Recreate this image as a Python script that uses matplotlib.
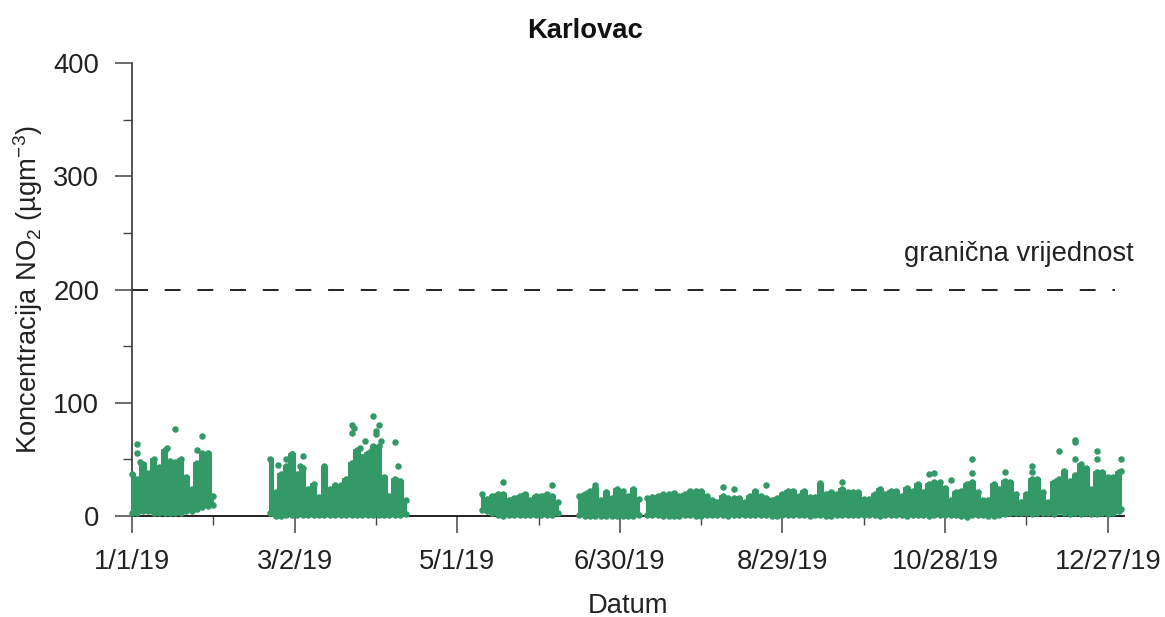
import matplotlib
matplotlib.use("Agg")
import matplotlib.pyplot as plt
from matplotlib.ticker import FixedLocator, FixedFormatter

plt.rcParams['font.family'] = ['Liberation Sans', 'DejaVu Sans']
plt.rcParams['mathtext.fontset'] = 'custom'
plt.rcParams['mathtext.rm'] = 'Liberation Sans'
plt.rcParams['mathtext.default'] = 'regular'

TITLE = "Karlovac"
X_LABEL = "Datum"
Y_LABEL = "Koncentracija NO$_2$ (µgm$^{-3}$)"
LIMIT_LABEL = "granična vrijednost"
LIMIT_VALUE = 200

x_major = [0, 60, 120, 180, 240, 300, 360]
x_minor = [30, 90, 150, 210, 270, 330]
x_labels = ["1/1/19", "3/2/19", "5/1/19", "6/30/19", "8/29/19", "10/28/19", "12/27/19"]
y_major = [0, 100, 200, 300, 400]
y_minor = [50, 150, 250, 350]

# day of year, and the highest / lowest reading around that day
day_jan = [0, 2, 4, 6, 8, 10, 12, 14, 16, 18, 20, 22, 24, 26, 28, 30]
top_jan = [37, 33, 46, 38, 50, 43, 58, 49, 48, 50, 34, 24, 47, 56, 56, 18]
low_jan = [3, 3, 4, 4, 3, 3, 3, 3, 3, 3, 4, 4, 6, 8, 9, 10]

day_mar = [51, 53, 55, 57, 59, 61, 63, 65, 67, 69, 71, 73, 75, 77, 79, 81, 83, 85, 87, 89, 91, 93, 95, 97, 99, 101]
top_mar = [50, 21, 37, 44, 55, 37, 42, 24, 28, 17, 43, 24, 27, 27, 33, 47, 58, 52, 56, 62, 62, 34, 18, 33, 31, 14]
low_mar = [3, 0, 0, 1, 1, 1, 1, 1, 1, 1, 1, 1, 1, 1, 1, 1, 1, 1, 1, 1, 1, 1, 1, 1, 1, 2]

day_may = [129, 131, 133, 135, 137, 139, 141, 143, 145, 147, 149, 151, 153, 155, 157]
top_may = [19, 15, 18, 19, 19, 14, 16, 18, 19, 14, 18, 18, 19, 18, 12]
low_may = [5, 4, 3, 1, 0, 1, 1, 1, 1, 1, 1, 1, 1, 1, 3]

day_jun = [165, 167, 169, 171, 173, 175, 177, 179, 181, 183, 185, 187]
top_jun = [18, 19, 22, 25, 14, 21, 16, 24, 22, 18, 24, 15]
low_jun = [1, 0, 0, 0, 0, 0, 0, 0, 0, 0, 0, 1]

day_rest = [190, 192, 194, 196, 198, 200, 202, 204, 206, 208, 210, 212, 214, 216, 218, 220, 222, 224, 226, 228,
            230, 232, 234, 236, 238, 240, 242, 244, 246, 248, 250, 252, 254, 256, 258, 260, 262, 264, 266, 268,
            270, 272, 274, 276, 278, 280, 282, 284, 286, 288, 290, 292, 294, 296, 298, 300, 302, 304, 306, 308,
            310, 312, 314, 316, 318, 320, 322, 324, 326, 328, 330, 332, 334, 336, 338, 340, 342, 344, 346, 348,
            350, 352, 354, 356, 358, 360, 362, 364, 365]
top_rest = [16, 17, 18, 19, 19, 20, 18, 19, 22, 22, 22, 18, 14, 12, 18, 16, 16, 16, 12, 18,
            22, 18, 16, 14, 16, 19, 22, 22, 18, 22, 17, 17, 28, 19, 21, 19, 24, 21, 21, 21,
            15, 15, 19, 24, 19, 22, 22, 18, 25, 22, 28, 21, 28, 30, 30, 25, 14, 21, 22, 28,
            30, 21, 14, 14, 28, 24, 31, 30, 19, 12, 19, 33, 33, 21, 12, 30, 33, 40, 31, 36,
            46, 42, 24, 39, 39, 34, 34, 39, 40]
low_rest = [1, 1, 1, 0, 0, 0, 0, 1, 1, 0, 0, 1, 1, 1, 1, 0, 1, 1, 1, 1,
            1, 1, 1, 0, 0, 1, 1, 1, 1, 1, 0, 1, 1, 0, 0, 1, 1, 1, 1, 1,
            1, 1, 1, 0, 1, 1, 1, 1, 0, 1, 1, 1, 0, 1, 1, 1, 1, 1, 0, -1,
            1, 1, 1, 0, 0, 1, 2, 3, 3, 3, 3, 2, 3, 3, 3, 2, 4, 3, 2, 3,
            2, 3, 2, 2, 3, 2, 3, 4, 6]

# isolated peaks standing above the dense mass
peak_day = [2, 2, 3, 16, 26, 13, 24, 54, 57, 59, 62, 63, 71, 81, 81, 82, 84, 85, 86, 87, 88, 89, 90, 90, 91, 92, 97, 98,
            137, 155, 171, 218, 222, 234, 254, 254, 262, 294, 296, 302, 310, 310, 322, 332, 332, 342, 348, 348, 348, 356, 356, 365]
peak_val = [64, 56, 48, 77, 71, 60, 58, 45, 50, 55, 44, 53, 44, 80, 73, 78, 60, 52, 66, 48, 57, 88, 72, 75, 80, 66, 65, 44,
            30, 27, 27, 26, 24, 27, 29, 24, 30, 37, 38, 32, 50, 38, 39, 44, 39, 57, 67, 65, 50, 57, 50, 50]

GREEN = "#339966"
INK = "#222222"
FS = 19.7

fig = plt.figure(figsize=(11.65, 6.17), dpi=100)
ax = fig.add_axes([132 / 1165, 1 - 516 / 617, (1124 - 132) / 1165, (516 - 63) / 617])
ax.set_xlim(0, 366)
ax.set_ylim(0, 400)

ax.plot([0, 362.5], [LIMIT_VALUE, LIMIT_VALUE], color="#111111", lw=1.3, dashes=(8.8, 9.3), zorder=2)

for days, tops, lows in [(day_jan, top_jan, low_jan), (day_mar, top_mar, low_mar), (day_may, top_may, low_may),
                         (day_jun, top_jun, low_jun), (day_rest, top_rest, low_rest)]:
    ax.fill_between(days, lows, tops, step="mid", color=GREEN, lw=1.5, zorder=4, clip_on=False)
    ax.scatter(days, tops, s=22, color=GREEN, linewidths=0, zorder=4, clip_on=False)
    ax.scatter(days, lows, s=22, color=GREEN, linewidths=0, zorder=4, clip_on=False)
ax.scatter(peak_day, peak_val, s=22, color=GREEN, linewidths=0, zorder=4, clip_on=False)

for side in ("top", "right"):
    ax.spines[side].set_visible(False)
ax.spines["left"].set_color("#444444")
ax.spines["left"].set_linewidth(1.3)
ax.spines["bottom"].set_color("#111111")
ax.spines["bottom"].set_linewidth(1.3)

ax.xaxis.set_major_locator(FixedLocator(x_major))
ax.xaxis.set_major_formatter(FixedFormatter(x_labels))
ax.xaxis.set_minor_locator(FixedLocator(x_minor))
ax.yaxis.set_major_locator(FixedLocator(y_major))
ax.yaxis.set_minor_locator(FixedLocator(y_minor))
ax.tick_params(axis="both", which="major", length=12.5, width=1.1, color="#444444", labelsize=FS, labelcolor=INK, pad=11)
ax.tick_params(axis="both", which="minor", length=6.5, width=1.0, color="#444444")

ax.set_title(TITLE, fontsize=FS, fontweight="bold", color="#111111", x=0.4567, pad=18)
ax.set_xlabel(X_LABEL, fontsize=FS, color=INK, labelpad=13)
ax.set_ylabel(Y_LABEL, fontsize=FS, color=INK, labelpad=6)
ax.annotate(LIMIT_LABEL, xy=(1134 / 1165, 1 - 254 / 617), xycoords="figure fraction", fontsize=FS, color=INK,
            ha="right", va="center")

fig.savefig("out.png", dpi=100)
